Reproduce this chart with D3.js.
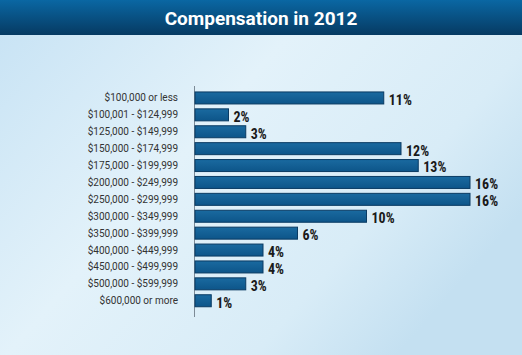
<!DOCTYPE html>
<html><head><meta charset="utf-8">
<script src="https://cdn.jsdelivr.net/npm/d3@7"></script>
<style>html,body{margin:0;padding:0;overflow:hidden}svg{display:block}</style>
</head><body>
<script>
const categories = ["$100,000 or less","$100,001 - $124,999","$125,000 - $149,999","$150,000 - $174,999","$175,000 - $199,999","$200,000 - $249,999","$250,000 - $299,999","$300,000 - $349,999","$350,000 - $399,999","$400,000 - $449,999","$450,000 - $499,999","$500,000 - $599,999","$600,000 or more"];
const values = [11,2,3,12,13,16,16,10,6,4,4,3,1];
const title = "Compensation in 2012";

const W = 522, H = 355;
const svg = d3.select("body").append("svg").attr("width", W).attr("height", H);
const defs = svg.append("defs");
const bg = defs.append("linearGradient").attr("id","bg").attr("x1","0").attr("y1","0").attr("x2","1").attr("y2","0.6");
bg.append("stop").attr("offset","0").attr("stop-color","#c6e2f4");
bg.append("stop").attr("offset","0.45").attr("stop-color","#e3f2fa");
bg.append("stop").attr("offset","0.8").attr("stop-color","#d8ecf7");
bg.append("stop").attr("offset","1").attr("stop-color","#c4e0f1");
const hd = defs.append("linearGradient").attr("id","hd").attr("x1","0").attr("y1","0").attr("x2","0").attr("y2","1");
hd.append("stop").attr("offset","0").attr("stop-color","#0a67a3");
hd.append("stop").attr("offset","1").attr("stop-color","#063a62");
const bar = defs.append("linearGradient").attr("id","bar").attr("x1","0").attr("y1","0").attr("x2","0").attr("y2","1");
bar.append("stop").attr("offset","0").attr("stop-color","#1a6aa0");
bar.append("stop").attr("offset","1").attr("stop-color","#0d5589");

svg.append("rect").attr("width",W).attr("height",H).attr("fill","url(#bg)");
svg.append("rect").attr("width",W).attr("height",35).attr("fill","url(#hd)");
svg.append("text").attr("x",W/2).attr("y",24.5).attr("text-anchor","middle")
  .attr("font-family","Roboto, 'Open Sans', sans-serif").attr("font-weight","bold")
  .attr("font-size","19px").attr("fill","#ffffff").text(title);

const x = d3.scaleLinear().domain([0,16]).range([194, 470]);
const y = d3.scaleBand().domain(categories).range([89.5, 309.2]).paddingInner(0.29).paddingOuter(0.145);

svg.append("line").attr("x1",194.5).attr("x2",194.5).attr("y1",86).attr("y2",317)
  .attr("stroke","#7c8a96").attr("stroke-width",1);

svg.selectAll("rect.bar").data(values).enter().append("rect").attr("class","bar")
  .attr("x", x(0)+1).attr("y",(d,i)=>y(categories[i]))
  .attr("width", d=>x(d)-x(0)-1).attr("height", y.bandwidth())
  .attr("fill","url(#bar)").attr("stroke","#0a3b63").attr("stroke-width",1);

svg.selectAll("text.cat").data(categories).enter().append("text").attr("class","cat")
  .attr("x",178).attr("y",d=>y(d)+y.bandwidth()/2).attr("dy","0.35em")
  .attr("text-anchor","end").attr("font-family","Roboto, sans-serif")
  .attr("font-size","10px").attr("fill","#333").text(d=>d);

svg.selectAll("text.val").data(values).enter().append("text").attr("class","val")
  .attr("x",d=>x(d)+5).attr("y",(d,i)=>y(categories[i])+y.bandwidth()/2+2).attr("dy","0.35em")
  .attr("font-family","'Liberation Sans Narrow', 'Roboto Condensed', Roboto, sans-serif")
  .attr("font-weight","bold").attr("font-size","14px").attr("fill","#1a1a1a").text(d=>d+"%");
</script>
</body></html>
